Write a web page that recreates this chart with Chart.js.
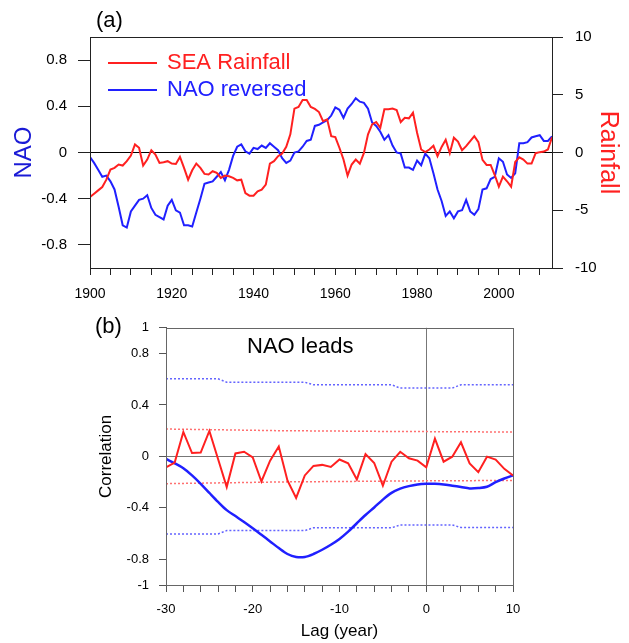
<!DOCTYPE html>
<html>
<head>
<meta charset="utf-8">
<script src="https://cdn.jsdelivr.net/npm/chart.js@4.4.1/dist/chart.umd.min.js"></script>
<style>
  html, body { margin: 0; padding: 0; background: #fff; }
  #wrap { position: relative; width: 629px; height: 643px; }
  canvas { position: absolute; left: 0; }
  #panelA { top: 0; }
  #panelB { top: 310px; }
</style>
</head>
<body>
<div id="wrap">
  <canvas id="panelA" width="629" height="310"></canvas>
  <canvas id="panelB" width="629" height="333"></canvas>
</div>
<script>
// ---- panel (a): annual series, 1900-2013 ----
const years = [
  1900,1901,1902,1903,1904,1905,1906,1907,1908,1909,1910,1911,1912,1913,1914,1915,1916,1917,1918,1919,
  1920,1921,1922,1923,1924,1925,1926,1927,1928,1929,1930,1931,1932,1933,1934,1935,1936,1937,1938,1939,
  1940,1941,1942,1943,1944,1945,1946,1947,1948,1949,1950,1951,1952,1953,1954,1955,1956,1957,1958,1959,
  1960,1961,1962,1963,1964,1965,1966,1967,1968,1969,1970,1971,1972,1973,1974,1975,1976,1977,1978,1979,
  1980,1981,1982,1983,1984,1985,1986,1987,1988,1989,1990,1991,1992,1993,1994,1995,1996,1997,1998,1999,
  2000,2001,2002,2003,2004,2005,2006,2007,2008,2009,2010,2011,2012,2013
];
const seaRainfall = [
  -3.86,-3.57,-3.28,-2.99,-2.35,-1.48,-1.33,-1.04,-1.13,-0.75,-0.26,0.70,0.41,-1.13,-0.61,0.20,-0.17,-0.90,-0.84,-0.75,
  -0.96,-0.99,-0.38,-1.33,-2.35,-1.54,-0.96,-1.33,-1.85,-1.91,-1.62,-1.77,-2.20,-2.00,-2.06,-2.20,-2.41,-2.35,-3.51,-3.74,
  -3.74,-3.36,-3.22,-2.78,-0.96,-0.75,-0.32,-0.09,0.49,1.57,3.80,3.94,4.55,4.55,3.94,3.77,3.50,2.72,2.87,1.42,
  1.33,0.41,-0.61,-2.00,-1.04,-0.61,-0.96,-0.03,1.57,2.43,2.64,2.14,3.74,3.74,3.80,3.68,2.64,3.01,2.96,3.45,
  1.71,0.26,0.03,0.26,0.58,-0.32,0.48,1.10,-0.06,1.28,0.95,0.20,0.55,0.99,1.42,0.90,-0.64,-1.08,-1.08,-1.95,
  -2.96,-2.09,-2.49,-2.96,-0.82,-0.42,-0.61,-0.96,-0.96,-0.06,0.03,0.08,0.26,1.32
];
const naoReversed = [
  -0.04,-0.09,-0.15,-0.21,-0.20,-0.25,-0.32,-0.47,-0.63,-0.65,-0.51,-0.46,-0.41,-0.40,-0.37,-0.48,-0.54,-0.56,-0.58,-0.46,
  -0.41,-0.50,-0.52,-0.63,-0.63,-0.64,-0.52,-0.40,-0.27,-0.26,-0.25,-0.21,-0.17,-0.24,-0.15,-0.03,0.05,0.07,0.01,-0.01,
  0.04,0.03,0.06,0.04,0.08,0.05,0.02,-0.05,-0.09,-0.07,0.00,0.01,0.05,0.10,0.11,0.23,0.24,0.26,0.28,0.32,
  0.39,0.37,0.30,0.38,0.42,0.47,0.44,0.43,0.38,0.26,0.23,0.18,0.11,0.15,0.06,0.00,-0.01,-0.13,-0.13,-0.15,
  -0.07,-0.11,-0.01,-0.05,-0.18,-0.32,-0.42,-0.55,-0.51,-0.57,-0.51,-0.50,-0.41,-0.51,-0.54,-0.49,-0.32,-0.31,-0.23,-0.21,
  -0.05,-0.08,-0.19,-0.22,-0.18,0.08,0.08,0.09,0.13,0.14,0.15,0.10,0.10,0.14
];
const naoTicks = [-0.8, -0.4, 0, 0.4, 0.8];
const rainTicks = [-10, -5, 0, 5, 10];

// ---- panel (b): lag correlation ----
const lags = [-30,-29,-28,-27,-26,-25,-24,-23,-22,-21,-20,-19,-18,-17,-16,-15,-14,-13,-12,-11,
  -10,-9,-8,-7,-6,-5,-4,-3,-2,-1,0,1,2,3,4,5,6,7,8,9,10];
const corrRain = [-0.085,-0.048,0.19,0.026,0.03,0.198,-0.02,-0.238,0.023,0.036,-0.007,-0.195,-0.033,0.077,-0.187,-0.323,-0.148,-0.074,-0.066,-0.082,
  -0.024,-0.054,-0.179,0.018,-0.051,-0.228,-0.041,0.036,-0.015,-0.033,-0.085,0.138,-0.041,-0.002,0.11,-0.054,-0.123,-0.002,-0.025,-0.097,-0.148];
const corrNao = [-0.02,-0.054,-0.092,-0.148,-0.213,-0.284,-0.354,-0.418,-0.464,-0.51,-0.559,-0.61,-0.661,-0.713,-0.759,-0.782,-0.782,-0.759,-0.726,-0.687,
  -0.642,-0.585,-0.52,-0.456,-0.397,-0.336,-0.284,-0.251,-0.231,-0.218,-0.213,-0.213,-0.218,-0.228,-0.238,-0.249,-0.246,-0.236,-0.2,-0.172,-0.148];
// significance levels
const sigRainUp = [0.213,0.212,0.211,0.210,0.209,0.208,0.207,0.206,0.205,0.204,0.203,0.202,0.201,0.200,0.200,0.199,0.199,0.198,0.198,0.197,
  0.197,0.196,0.196,0.195,0.195,0.194,0.194,0.194,0.193,0.193,0.193,0.192,0.192,0.192,0.191,0.191,0.191,0.190,0.190,0.190,0.190];
const sigRainLo = [-0.212,-0.211,-0.210,-0.209,-0.208,-0.207,-0.206,-0.205,-0.204,-0.203,-0.202,-0.201,-0.200,-0.199,-0.198,-0.198,-0.197,-0.197,-0.196,-0.196,
  -0.195,-0.195,-0.194,-0.194,-0.193,-0.193,-0.192,-0.192,-0.191,-0.191,-0.190,-0.190,-0.190,-0.189,-0.189,-0.189,-0.188,-0.188,-0.188,-0.187,-0.187];
const sigNaoUp = [0.603,0.603,0.603,0.603,0.603,0.603,0.603,0.577,0.577,0.577,0.577,0.577,0.577,0.577,0.577,0.577,0.577,0.557,0.557,0.557,
  0.557,0.557,0.557,0.557,0.557,0.557,0.557,0.531,0.531,0.531,0.531,0.531,0.531,0.531,0.557,0.557,0.557,0.557,0.557,0.557,0.557];
const sigNaoLo = [-0.603,-0.603,-0.603,-0.603,-0.603,-0.603,-0.603,-0.577,-0.577,-0.577,-0.577,-0.577,-0.577,-0.577,-0.577,-0.577,-0.577,-0.555,-0.555,-0.555,
  -0.555,-0.555,-0.555,-0.555,-0.555,-0.555,-0.555,-0.533,-0.533,-0.533,-0.533,-0.533,-0.533,-0.533,-0.553,-0.553,-0.553,-0.553,-0.553,-0.553,-0.553];
const corrTicks = [-1, -0.8, -0.4, 0, 0.4, 0.8, 1];

const RED = '#ff2020';
const BLUE = '#2020ff';
const FONT = 'Liberation Sans, Arial, Helvetica, sans-serif';
Chart.defaults.font.family = FONT;
Chart.defaults.color = '#000';

const xy = (xs, ys) => xs.map((x, i) => ({ x: x, y: ys[i] }));
const setTicks = list => scale => { scale.ticks = list.map(v => ({ value: v })); };

// frame around the plot area, panel letters, free text and legend
const decor = {
  id: 'decor',
  afterDraw(chart, args, opts) {
    const { ctx, chartArea: a } = chart;
    ctx.save();
    ctx.strokeStyle = opts.frameColor;
    ctx.lineWidth = 1;
    ctx.strokeRect(Math.round(a.left) + 0.5, Math.round(a.top) + 0.5,
      Math.round(a.right - a.left), Math.round(a.bottom - a.top));
    ctx.textBaseline = 'middle';
    (opts.texts || []).forEach(t => {
      ctx.font = t.font;
      ctx.fillStyle = t.color || '#000';
      ctx.fillText(t.text, t.x, t.y);
    });
    if (opts.legend) {
      const L = opts.legend;
      L.items.forEach((idx, k) => {
        const ds = chart.data.datasets[idx];
        const y = L.y + k * L.gap;
        ctx.strokeStyle = ds.borderColor;
        ctx.lineWidth = 2;
        ctx.beginPath();
        ctx.moveTo(L.x, y);
        ctx.lineTo(L.x + L.len, y);
        ctx.stroke();
        ctx.font = L.font;
        ctx.fillStyle = ds.borderColor;
        ctx.fillText(ds.label, L.x + L.len + 10, y);
      });
    }
    ctx.restore();
  }
};

const zeroOnly = col => c => (c.tick && c.tick.value === 0 ? col : 'rgba(0,0,0,0)');

// Panel (a)
new Chart(document.getElementById('panelA'), {
  type: 'line',
  data: {
    datasets: [
      { label: 'SEA Rainfall', data: xy(years, seaRainfall), yAxisID: 'yR',
        borderColor: RED, borderWidth: 2, pointRadius: 0, tension: 0 },
      { label: 'NAO reversed', data: xy(years, naoReversed), yAxisID: 'yL',
        borderColor: BLUE, borderWidth: 2, pointRadius: 0, tension: 0 }
    ]
  },
  options: {
    responsive: false,
    animation: false,
    layout: { padding: { top: 37, left: 0, right: 0, bottom: 0 } },
    plugins: {
      legend: { display: false },
      tooltip: { enabled: false },
      decor: {
        frameColor: '#222',
        texts: [{ text: '(a)', x: 96, y: 21, font: '22px ' + FONT }],
        legend: { items: [0, 1], x: 108, y: 63, gap: 27, len: 49, font: '22px ' + FONT }
      }
    },
    scales: {
      x: {
        type: 'linear', min: 1900, max: 2013,
        afterFit: s => { s.height = 42; },
        ticks: { stepSize: 5, autoSkip: false, maxRotation: 0, includeBounds: false,
          padding: 11, font: { size: 14 },
          callback: v => (v % 20 === 0 ? String(v) : '') },
        grid: { drawOnChartArea: false, tickLength: 7, color: '#222', tickColor: '#222' },
        border: { color: '#222' }
      },
      yL: {
        type: 'linear', position: 'left', min: -1, max: 1,
        afterFit: s => { s.width = 90; },
        afterBuildTicks: setTicks(naoTicks),
        ticks: { padding: 11, font: { size: 15 }, callback: v => String(v) },
        grid: { drawOnChartArea: true, tickLength: 12, color: zeroOnly('#000'), tickColor: '#222' },
        border: { color: '#222' },
        title: { display: true, text: 'NAO', color: '#1a1ad6', font: { size: 24 }, padding: { top: 10, bottom: 0 } }
      },
      yR: {
        type: 'linear', position: 'right', min: -10, max: 10,
        afterFit: s => { s.width = 77; },
        afterBuildTicks: setTicks(rainTicks),
        ticks: { padding: 12, font: { size: 15 }, callback: v => String(v) },
        grid: { drawOnChartArea: false, tickLength: 11, color: '#222', tickColor: '#222' },
        border: { color: '#222' },
        title: { display: true, text: 'Rainfall', color: RED, font: { size: 25 }, padding: { top: 6, bottom: 0 } }
      }
    }
  },
  plugins: [decor]
});

// Panel (b)
new Chart(document.getElementById('panelB'), {
  type: 'line',
  data: {
    datasets: [
      { label: 'SEA Rainfall', data: xy(lags, corrRain), borderColor: RED, borderWidth: 2, pointRadius: 0, tension: 0 },
      { label: 'NAO reversed', data: xy(lags, corrNao), borderColor: BLUE, borderWidth: 2.5, pointRadius: 0, tension: 0.3 },
      { label: 'rain sig +', data: xy(lags, sigRainUp), borderColor: '#ff7070', borderWidth: 1.5, borderDash: [2, 2], pointRadius: 0 },
      { label: 'rain sig -', data: xy(lags, sigRainLo), borderColor: '#ff7070', borderWidth: 1.5, borderDash: [2, 2], pointRadius: 0 },
      { label: 'nao sig +', data: xy(lags, sigNaoUp), borderColor: '#6464ff', borderWidth: 1.5, borderDash: [2, 2], pointRadius: 0 },
      { label: 'nao sig -', data: xy(lags, sigNaoLo), borderColor: '#6464ff', borderWidth: 1.5, borderDash: [2, 2], pointRadius: 0 }
    ]
  },
  options: {
    responsive: false,
    animation: false,
    layout: { padding: { top: 15, left: 0, right: 116, bottom: 0 } },
    plugins: {
      legend: { display: false },
      tooltip: { enabled: false },
      decor: {
        frameColor: '#666',
        texts: [
          { text: '(b)', x: 95, y: 17, font: '22px ' + FONT },
          { text: 'NAO leads', x: 247, y: 37, font: '22px ' + FONT }
        ]
      }
    },
    scales: {
      x: {
        type: 'linear', min: -30, max: 10,
        afterFit: s => { s.height = 58; },
        ticks: { stepSize: 2, autoSkip: false, maxRotation: 0, includeBounds: false,
          padding: 10, font: { size: 13 },
          callback: v => (v % 10 === 0 ? String(v) : '') },
        grid: { drawOnChartArea: true, tickLength: 7, color: zeroOnly('#777'), tickColor: '#555' },
        border: { color: '#555' },
        title: { display: true, text: 'Lag (year)', font: { size: 17 }, padding: { top: 0, bottom: 1 } }
      },
      y: {
        type: 'linear', min: -1, max: 1,
        afterFit: s => { s.width = 166; },
        afterBuildTicks: setTicks(corrTicks),
        ticks: { padding: 10, font: { size: 13 }, callback: v => String(v) },
        grid: { drawOnChartArea: true, tickLength: 7, color: zeroOnly('#777'), tickColor: '#555' },
        border: { color: '#555' },
        title: { display: true, text: 'Correlation', font: { size: 17 }, padding: { top: 96, bottom: 0 } }
      }
    }
  },
  plugins: [decor]
});
</script>
</body>
</html>
